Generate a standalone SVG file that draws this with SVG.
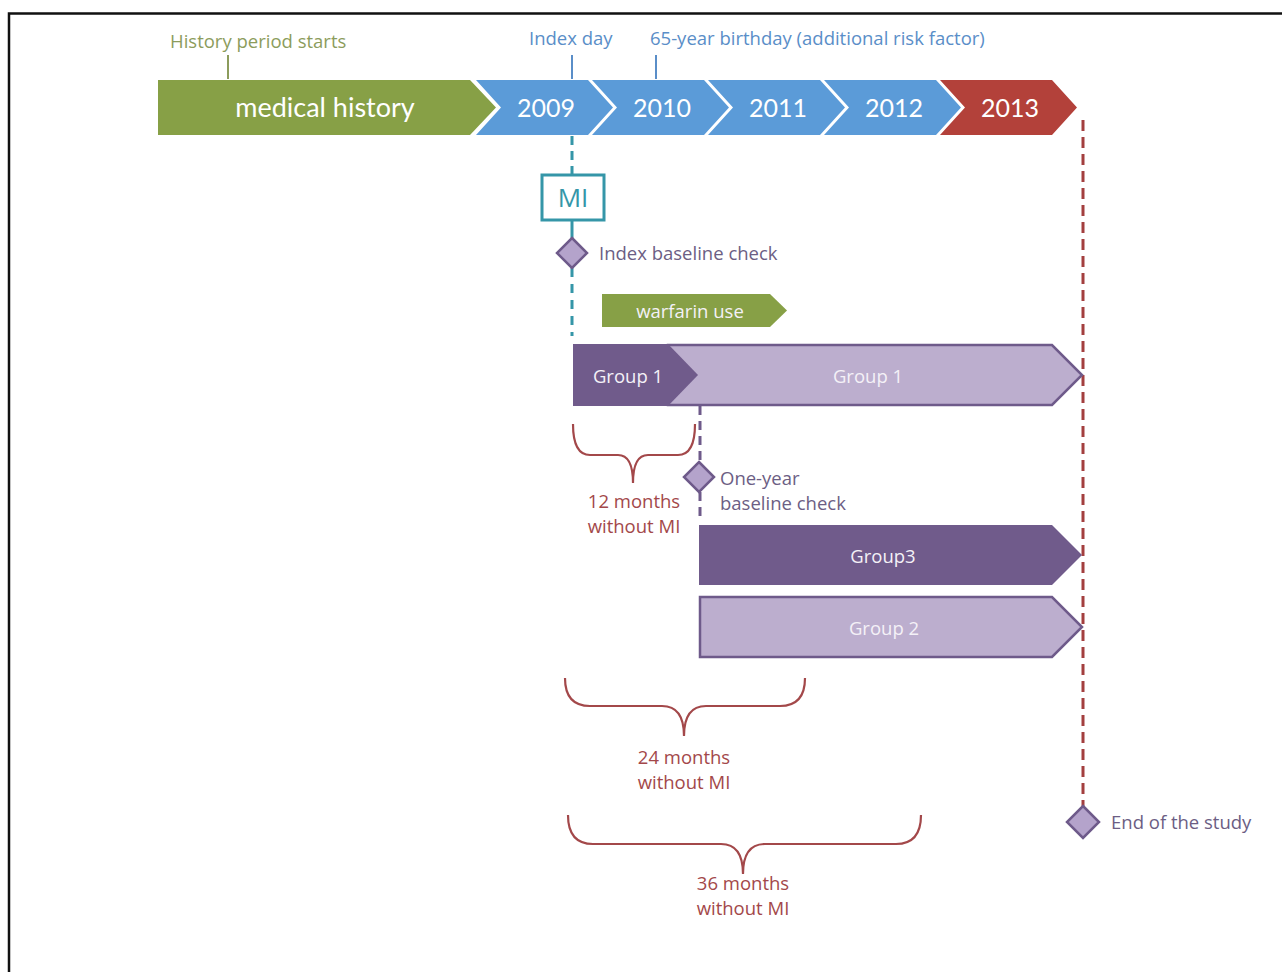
<svg xmlns="http://www.w3.org/2000/svg" width="1282" height="972" viewBox="0 0 1282 972">
<style>
text{font-family:"Open Sans","Liberation Sans",sans-serif}
.yr{font-family:Lato,"Open Sans",sans-serif;font-size:25px;fill:#ffffff;text-anchor:middle}
.lbl{font-size:18.5px}
.wt{font-size:18.5px;fill:#f4f1f7;text-anchor:middle}
.pl{fill:#6c5e84}
.br{fill:none;stroke:#a3484a;stroke-width:2.2}
.brt{font-size:18.5px;fill:#a3484a;text-anchor:middle}
.dia{fill:#b4a3cb;stroke:#6e5a8a;stroke-width:2.5}
.dark{fill:#705b8b}
.light{fill:#bcaece;stroke:#6e5a8a;stroke-width:2.5}
</style>
<rect x="0" y="0" width="1282" height="972" fill="#ffffff"/>
<rect x="9" y="13.5" width="1300" height="1000" fill="none" stroke="#111111" stroke-width="2.5"/>

<g id="connectors" fill="none">
  <line x1="228" y1="55" x2="228" y2="79" stroke="#8c9c5c" stroke-width="2"/>
  <line x1="572" y1="55" x2="572" y2="79" stroke="#5a8ec8" stroke-width="2"/>
  <line x1="656" y1="55" x2="656" y2="79" stroke="#5a8ec8" stroke-width="2"/>
  <line x1="572" y1="136" x2="572" y2="175" stroke="#3596a8" stroke-width="3" stroke-dasharray="9,6"/>
  <line x1="572" y1="220" x2="572" y2="238" stroke="#3596a8" stroke-width="3"/>
  <line x1="572" y1="268" x2="572" y2="336" stroke="#3596a8" stroke-width="3" stroke-dasharray="9,7"/>
  <line x1="700" y1="406" x2="700" y2="462" stroke="#6e5a8a" stroke-width="3" stroke-dasharray="9,6"/>
  <line x1="700" y1="492" x2="700" y2="516" stroke="#6e5a8a" stroke-width="3" stroke-dasharray="9,6"/>
  <line x1="1083" y1="120" x2="1083" y2="806" stroke="#a33f3f" stroke-width="3" stroke-dasharray="11,6"/>
</g>

<g id="labels-top">
  <text class="lbl" x="170" y="48" fill="#8c9c5c">History period starts</text>
  <text class="lbl" x="529" y="45" fill="#5a8ec8">Index day</text>
  <text class="lbl" x="650" y="45" fill="#5a8ec8">65-year birthday (additional risk factor)</text>
</g>

<g id="timeline">
  <path d="M158,80 L470,80 L496,107.5 L470,135 L158,135 Z" fill="#87a046"/>
  <text class="yr" x="325" y="117" style="font-size:27px">medical history</text>
  <path d="M476,80 L588,80 L613,107.5 L588,135 L476,135 L501,107.5 Z" fill="#5b9bd8"/>
  <text class="yr" x="546" y="117">2009</text>
  <path d="M592,80 L704,80 L729,107.5 L704,135 L592,135 L617,107.5 Z" fill="#5b9bd8"/>
  <text class="yr" x="662" y="117">2010</text>
  <path d="M708,80 L820,80 L845,107.5 L820,135 L708,135 L733,107.5 Z" fill="#5b9bd8"/>
  <text class="yr" x="778" y="117">2011</text>
  <path d="M824,80 L936,80 L961,107.5 L936,135 L824,135 L849,107.5 Z" fill="#5b9bd8"/>
  <text class="yr" x="894" y="117">2012</text>
  <path d="M940,80 L1052,80 L1077,107.5 L1052,135 L940,135 L965,107.5 Z" fill="#b3413a"/>
  <text class="yr" x="1010" y="117">2013</text>
</g>

<g id="mi">
  <rect x="542" y="175" width="62" height="45" fill="#ffffff" stroke="#3596a8" stroke-width="3"/>
  <text x="573" y="207" font-size="26" font-family="Lato,sans-serif" fill="#3596a8" text-anchor="middle">MI</text>
</g>

<g id="index-baseline">
  <path class="dia" d="M572,238 L587,253 L572,268 L557,253 Z"/>
  <text class="lbl pl" x="599" y="260">Index baseline check</text>
</g>

<g id="warfarin">
  <path d="M602,294 L770,294 L787,310.5 L770,327 L602,327 Z" fill="#87a046"/>
  <text class="wt" x="690" y="318">warfarin use</text>
</g>

<g id="group1">
  <path class="light" d="M668,345 L1052,345 L1082,375 L1052,405 L668,405 Z"/>
  <path class="dark" d="M573,344 L668,344 L698,375 L668,406 L573,406 Z"/>
  <text class="wt" x="628" y="383">Group 1</text>
  <text class="wt" x="868" y="383">Group 1</text>
</g>

<g id="brace12">
  <path class="br" d="M573,424 Q573,455 590,455 L618,455 Q633,455 633,483 Q633,455 648,455 L678,455 Q695,455 695,424"/>
  <text class="brt" x="634" y="508">12 months</text>
  <text class="brt" x="634" y="533">without MI</text>
</g>

<g id="oneyear-baseline">
  <path class="dia" d="M699,462 L714,477 L699,492 L684,477 Z"/>
  <text class="lbl pl" x="720" y="485">One-year</text>
  <text class="lbl pl" x="720" y="510">baseline check</text>
</g>

<g id="group3">
  <path class="dark" d="M699,525 L1052,525 L1082,555 L1052,585 L699,585 Z"/>
  <text class="wt" x="883" y="563">Group3</text>
</g>

<g id="group2">
  <path class="light" d="M700,597 L1052,597 L1082,627 L1052,657 L700,657 Z"/>
  <text class="wt" x="884" y="635">Group 2</text>
</g>

<g id="brace24">
  <path class="br" d="M565,678 Q565,706 590,706 L662,706 Q684,706 684,736 Q684,706 706,706 L780,706 Q805,706 805,678"/>
  <text class="brt" x="684" y="764">24 months</text>
  <text class="brt" x="684" y="789">without MI</text>
</g>

<g id="brace36">
  <path class="br" d="M568,815 Q568,844 593,844 L721,844 Q743,844 743,874 Q743,844 765,844 L896,844 Q921,844 921,815"/>
  <text class="brt" x="743" y="890">36 months</text>
  <text class="brt" x="743" y="915">without MI</text>
</g>

<g id="end-study">
  <path class="dia" d="M1083,806 L1099,822 L1083,838 L1067,822 Z"/>
  <text class="lbl pl" x="1111" y="829">End of the study</text>
</g>
</svg>
